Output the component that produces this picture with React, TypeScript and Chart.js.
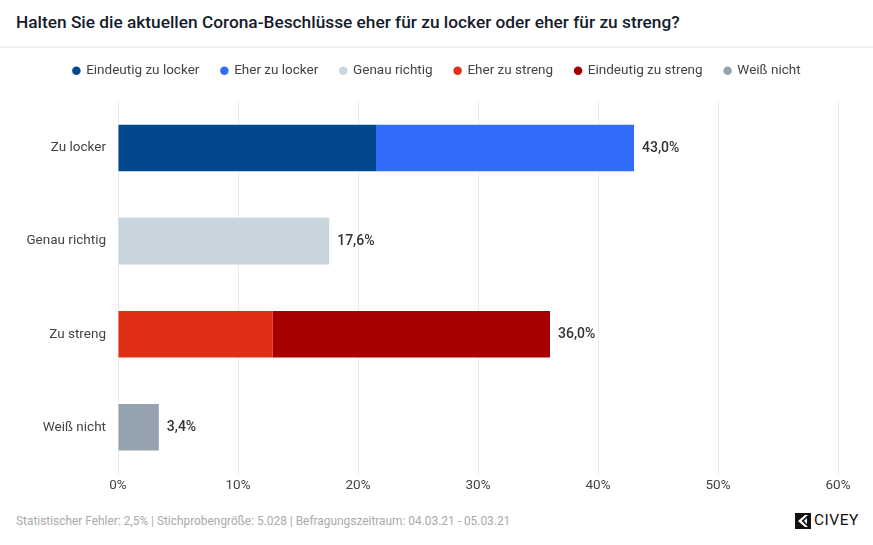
import React, { useEffect, useRef } from "react";
import { Chart, registerables } from "chart.js";

Chart.register(...registerables);

const TITLE = "Halten Sie die aktuellen Corona-Beschlüsse eher für zu locker oder eher für zu streng?";
const FOOTER = "Statistischer Fehler: 2,5% | Stichprobengröße: 5.028 | Befragungszeitraum: 04.03.21 - 05.03.21";

const categories = ["Zu locker", "Genau richtig", "Zu streng", "Weiß nicht"];
const seriesNames = ["Eindeutig zu locker", "Eher zu locker", "Genau richtig", "Eher zu streng", "Eindeutig zu streng", "Weiß nicht"];
const seriesColors = ["#00488b", "#316cf8", "#c8d4de", "#e02f15", "#a60000", "#95a3af"];
const eindeutigZuLocker = [21.5, null, null, null];
const eherZuLocker = [21.5, null, null, null];
const genauRichtig = [null, 17.6, null, null];
const eherZuStreng = [null, null, 12.9, null];
const eindeutigZuStreng = [null, null, 23.1, null];
const weissNicht = [null, null, null, 3.4];
const totals = ["43,0%", "17,6%", "36,0%", "3,4%"];
const xTicks = [0, 10, 20, 30, 40, 50, 60];

const FONT = "Roboto, 'Noto Sans', sans-serif";

export default function App() {
  const ref = useRef<HTMLCanvasElement>(null);
  useEffect(() => {
    const seriesData = [eindeutigZuLocker, eherZuLocker, genauRichtig, eherZuStreng, eindeutigZuStreng, weissNicht];
    const totalLabels = {
      id: "totalLabels",
      afterDatasetsDraw(chart: any) {
        const ctx = chart.ctx;
        ctx.save();
        ctx.font = `500 14px ${FONT}`;
        ctx.fillStyle = "#333";
        ctx.textAlign = "left";
        ctx.textBaseline = "middle";
        categories.forEach((_, i) => {
          let maxX = -Infinity;
          let y = 0;
          chart.data.datasets.forEach((ds: any, di: number) => {
            if (ds.data[i] == null) return;
            const el = chart.getDatasetMeta(di).data[i] as any;
            if (el && el.x > maxX) {
              maxX = el.x;
              y = el.y;
            }
          });
          ctx.fillText(totals[i], maxX + 8, y);
        });
        ctx.restore();
      },
    };
    const legendSpace = {
      id: "legendSpace",
      beforeInit(chart: any) {
        const orig = chart.legend.fit;
        chart.legend.fit = function () {
          orig.call(this);
          this.height += 14;
        };
      },
      afterLayout(chart: any) {
        chart.legend.left += 18;
        chart.legend.right += 18;
      },
    };
    const chart = new Chart(ref.current!, {
      type: "bar",
      data: {
        labels: categories,
        datasets: seriesNames.map((n, i) => ({
          label: n,
          data: seriesData[i] as any,
          backgroundColor: seriesColors[i],
          borderWidth: 0,
          categoryPercentage: 1,
          barPercentage: 0.5,
        })),
      },
      options: {
        indexAxis: "y",
        animation: false,
        responsive: false,
        maintainAspectRatio: false,
        layout: { padding: { left: 0, right: 35, top: 0, bottom: 0 } },
        plugins: {
          legend: {
            position: "top",
            labels: {
              usePointStyle: true,
              pointStyle: "circle",
              boxWidth: 6,
              boxHeight: 6,
              padding: 22,
              color: "#444",
              font: { family: FONT, size: 13.5 },
            },
          },
          tooltip: { enabled: false },
        },
        scales: {
          x: {
            stacked: true,
            min: 0,
            max: 60,
            afterBuildTicks(scale: any) {
              scale.ticks = xTicks.map((v) => ({ value: v }));
            },
            ticks: {
              callback: (v: any) => v + "%",
              color: "#444",
              font: { family: FONT, size: 13.5 },
              padding: 4,
              maxRotation: 0,
            },
            grid: { color: "#ebebeb", drawTicks: false },
            border: { display: false },
          },
          y: {
            stacked: true,
            afterFit(scale: any) {
              scale.width = 118;
            },
            ticks: {
              color: "#444",
              font: { family: FONT, size: 13.5 },
              padding: 12,
            },
            grid: { display: false, drawTicks: false },
            border: { display: false },
          },
        },
      },
      plugins: [totalLabels, legendSpace],
    });
    return () => chart.destroy();
  }, []);

  return (
    <div style={{ position: "absolute", left: 0, top: 0, width: 873, height: 545, background: "#fff", fontFamily: FONT, overflow: "hidden" }}>
      <div style={{ position: "absolute", left: 0, top: 46, width: 873, height: 2, background: "#efefef" }} />
      <canvas ref={ref} width={873} height={456} style={{ position: "absolute", left: 0, top: 42, width: 873, height: 456 }} />
      <div style={{ position: "absolute", left: 16, top: 10, fontSize: 17.3, fontWeight: 500, color: "#141c2c", lineHeight: "24px", whiteSpace: "nowrap" }}>
        {TITLE}
      </div>
      <div style={{ position: "absolute", left: 16, top: 513, fontSize: 11.9, color: "#aaaaaa", lineHeight: "16px", whiteSpace: "nowrap" }}>
        {FOOTER}
      </div>
      <div style={{ position: "absolute", left: 795, top: 512, height: 17, display: "flex", alignItems: "center" }}>
        <svg width={16} height={16} viewBox="0 0 16 16">
          <rect x={0} y={0} width={16} height={16} fill="#111" />
          <path d="M10 2 L3 8 L10 14 L13 14 L6.5 8 L13 2 Z" fill="#fff" />
          <path d="M9 8 L12 5 L12 11 Z" fill="#fff" />
        </svg>
        <span style={{ marginLeft: 3, fontSize: 15.5, color: "#111", letterSpacing: 0.5, lineHeight: "17px" }}>CIVEY</span>
      </div>
    </div>
  );
}
